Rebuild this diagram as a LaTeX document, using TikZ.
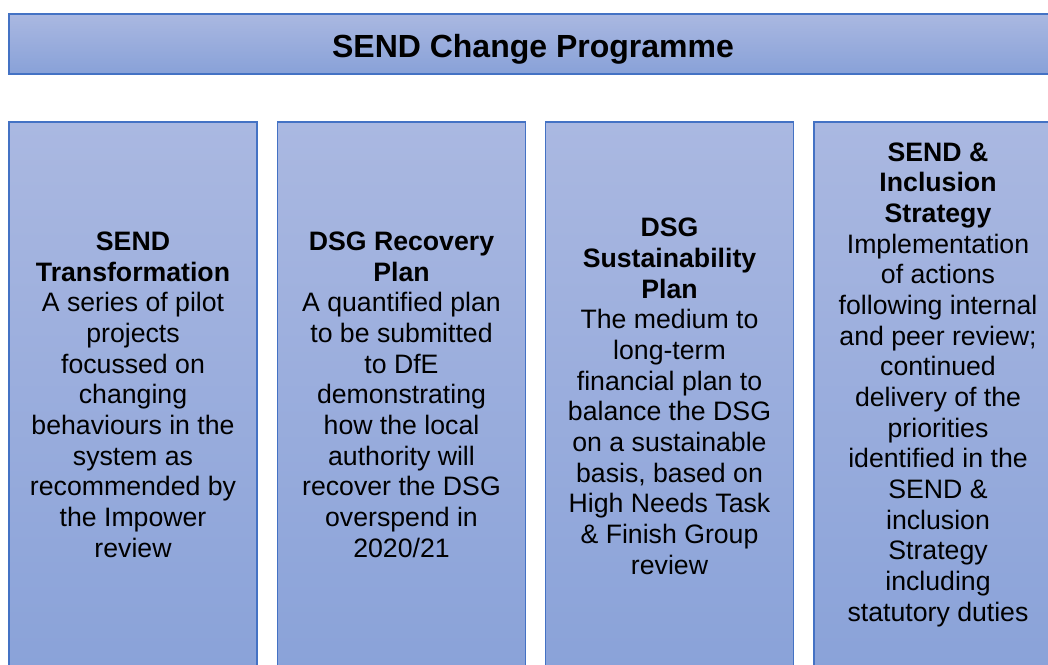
\documentclass[tikz,border=0pt]{standalone}
\usepackage{fontspec}
\setmainfont{Liberation Sans}
\definecolor{panelTop}{HTML}{AAB8E1}
\definecolor{panelBottom}{HTML}{88A1D8}
\definecolor{panelEdge}{HTML}{4472C4}
\tikzset{
  panel/.style={draw=panelEdge, line width=1.3pt, top color=panelTop, bottom color=panelBottom},
  % anchor=base sits on the last line of a multi-line node
  paneltext/.style={anchor=base, align=center, inner sep=0pt, text=black,
    font=\fontsize{20}{23}\selectfont},
  headtext/.style={anchor=base, inner sep=0pt, text=black,
    font=\fontsize{24}{28}\selectfont\bfseries}
}
\begin{document}
\begin{tikzpicture}[x=0.75pt, y=-0.75pt]
\useasboundingbox (0,0) rectangle (1048,664);
\clip (0,0) rectangle (1048,664);
% banner
\path[panel] (9,14) rectangle (1057,74);
\node[headtext] (title) at (533,57) {SEND Change Programme};
% four workstream panels
\path[panel] (9,122) rectangle (257,700);
\path[panel] (277.5,122) rectangle (525.5,700);
\path[panel] (545.5,122) rectangle (793.5,700);
\path[panel] (814,122) rectangle (1062,700);

\node[paneltext] (transform) at (133,557) {\textbf{SEND}\\ \textbf{Transformation}\\
  A series of pilot\\ projects\\ focussed on\\ changing\\ behaviours in the\\ system as\\
  recommended by\\ the Impower\\ review};
\node[paneltext] (recovery) at (401.5,557) {\textbf{DSG Recovery}\\ \textbf{Plan}\\
  A quantified plan\\ to be submitted\\ to DfE\\ demonstrating\\ how the local\\
  authority will\\ recover the DSG\\ overspend in\\ 2020/21};
\node[paneltext] (sustain) at (669.5,574) {\textbf{DSG}\\ \textbf{Sustainability}\\ \textbf{Plan}\\
  The medium to\\ long-term\\ financial plan to\\ balance the DSG\\ on a sustainable\\
  basis, based on\\ High Needs Task\\ \& Finish Group\\ review};
\node[paneltext] (strategy) at (938,621) {\textbf{SEND \&}\\ \textbf{Inclusion}\\ \textbf{Strategy}\\
  Implementation\\ of actions\\ following internal\\ and peer review;\\ continued\\
  delivery of the\\ priorities\\ identified in the\\ SEND \&\\ inclusion\\ Strategy\\
  including\\ statutory duties};
\end{tikzpicture}
\end{document}
